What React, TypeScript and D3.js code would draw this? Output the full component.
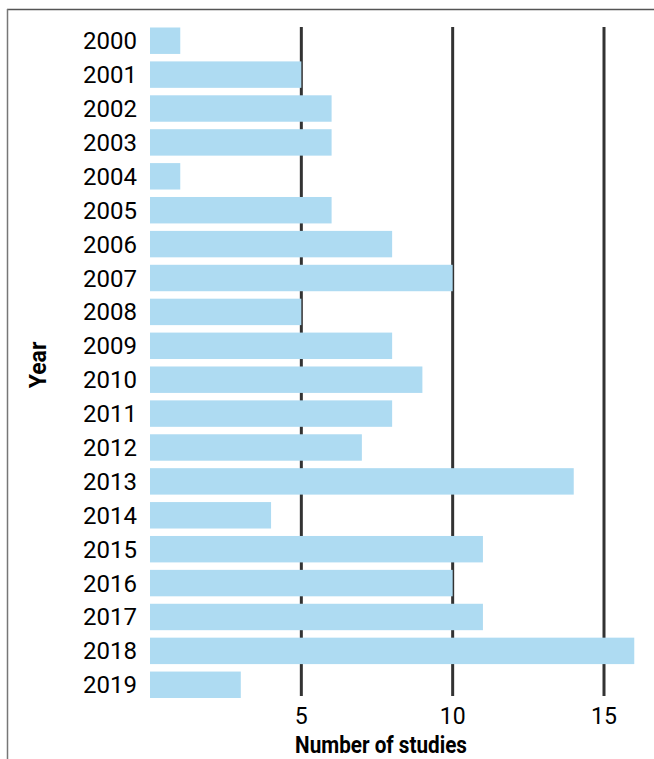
import * as React from "react";
import * as d3 from "d3";

const years = [
  "2000", "2001", "2002", "2003", "2004", "2005", "2006", "2007", "2008", "2009",
  "2010", "2011", "2012", "2013", "2014", "2015", "2016", "2017", "2018", "2019",
];
const studies = [1, 5, 6, 6, 1, 6, 8, 10, 5, 8, 9, 8, 7, 14, 4, 11, 10, 11, 16, 3];
const xTicks = [5, 10, 15];

const width = 654;
const height = 759;
const barColor = "#aedbf2";
const gridColor = "#333333";
const font = "Roboto, sans-serif";

export default function App() {
  const x = d3.scaleLinear().domain([0, 15]).range([150, 604]);
  const y = d3
    .scaleBand<string>()
    .domain(years)
    .range([27.5, 698])
    .paddingInner(0.22)
    .paddingOuter(0);

  return (
    <svg
      width={width}
      height={height}
      style={{ position: "absolute", left: 0, top: 0, background: "#fff" }}
    >
      {/* frame */}
      <line x1={7} x2={width} y1={9.5} y2={9.5} stroke="#555" strokeWidth={1.5} />
      <line x1={7.5} x2={7.5} y1={9} y2={height} stroke="#777" strokeWidth={1.5} />

      {/* grid lines */}
      {xTicks.map((t) => (
        <line
          key={"g" + t}
          x1={x(t)}
          x2={x(t)}
          y1={27}
          y2={696}
          stroke={gridColor}
          strokeWidth={3}
        />
      ))}

      {/* bars */}
      {years.map((yr, i) => (
        <rect
          key={yr}
          x={x(0)}
          y={y(yr)}
          width={x(studies[i]) - x(0)}
          height={y.bandwidth()}
          fill={barColor}
        />
      ))}

      {/* year labels */}
      {years.map((yr) => (
        <text
          key={"l" + yr}
          transform={`translate(137,${y(yr)! + y.bandwidth() / 2 + 8.5})`}
          textAnchor="end"
          fontFamily={font}
          fontSize={24}
          fill="#000"
        >
          {yr}
        </text>
      ))}

      {/* x tick labels */}
      {xTicks.map((t) => (
        <text
          key={"t" + t}
          transform={`translate(${x(t)},724)`}
          textAnchor="middle"
          fontFamily={font}
          fontSize={23}
          fill="#000"
        >
          {t}
        </text>
      ))}

      {/* axis titles */}
      <text
        transform="translate(381,753) scale(0.88,1)"
        textAnchor="middle"
        fontFamily={font}
        fontWeight="bold"
        fontSize={23.5}
        fill="#000"
      >
        Number of studies
      </text>
      <text
        transform="translate(46,365) rotate(-90)"
        textAnchor="middle"
        fontFamily={font}
        fontWeight="bold"
        fontSize={23}
        fill="#000"
      >
        Year
      </text>
    </svg>
  );
}
